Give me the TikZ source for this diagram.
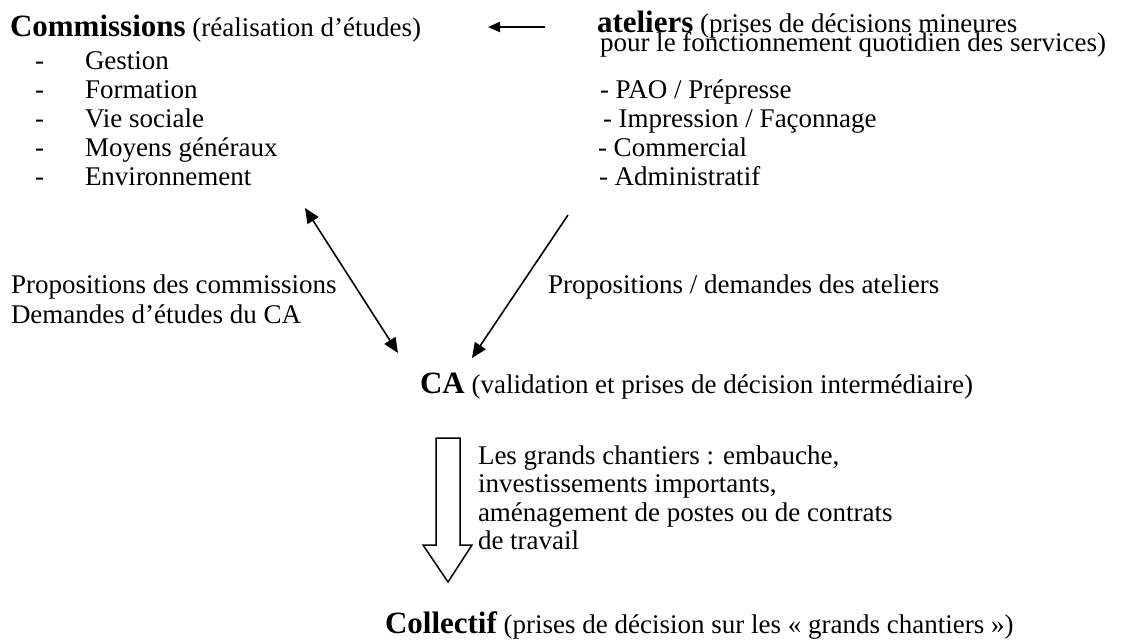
\documentclass[tikz,border=0pt]{standalone}
\usepackage{fontspec}
\setmainfont{Liberation Serif}
\usetikzlibrary{arrows.meta}
\newcommand{\rg}{\fontsize{27}{30}\selectfont}
\newcommand{\bd}[1]{{\fontsize{31}{34}\selectfont\bfseries #1}}
\begin{document}
\begin{tikzpicture}[x=1pt,y=-1pt,
  txt/.style={anchor=base west,inner sep=0pt,outer sep=0pt,font=\rg},
  thinarrow/.style={line width=1.6pt,-{Triangle[length=15pt,width=13pt]}},
  dblarrow/.style={line width=1.6pt,{Triangle[length=15pt,width=13pt]}-{Triangle[length=15pt,width=13pt]}},
  toparrow/.style={line width=2pt,-{Triangle[length=12pt,width=10pt]}},
  blockarrow/.style={line width=1.5pt,line join=miter,fill=white}]
\useasboundingbox (0,0) rectangle (1127,640);
% Commissions block
\node[txt] (comm) at (10,36) {\bd{Commissions} (réalisation d’études)};
\foreach \t/\y/\n in {Gestion/69/c1,Formation/98/c2,Vie sociale/127/c3,Moyens généraux/156/c4,Environnement/185/c5}{
  \node[txt] (\n d) at (35,\y) {-};
  \node[txt] (\n) at (85,\y) {\t};
}
% ateliers block
\node[txt] (atel) at (597,32) {\bd{ateliers} (prises de décisions mineures};
\node[txt] (atel2) at (600,51) {pour le fonctionnement quotidien des services)};
\node[txt] (a1) at (600,98) {- PAO / Prépresse};
\node[txt] (a2) at (603,127) {- Impression / Façonnage};
\node[txt] (a3) at (598,156) {- Commercial};
\node[txt] (a4) at (599,185) {- Administratif};
% top arrow
\coordinate (ta1) at (545,27);
\coordinate (ta2) at (488,27);
\draw[toparrow] (ta1) -- (ta2);
% labels
\node[txt] (l1) at (11,293) {Propositions des commissions};
\node[txt] (l2) at (11,323) {Demandes d’études du CA};
\node[txt] (l3) at (548,293) {Propositions / demandes des ateliers};
% CA
\node[txt] (ca) at (420,393) {\bd{CA} (validation et prises de décision intermédiaire)};
% arrows to CA
\coordinate (d1) at (305,208);
\coordinate (d2) at (398,353);
\coordinate (r1) at (568,215);
\coordinate (r2) at (472,358);
\draw[dblarrow] (d1) -- (d2);
\draw[thinarrow] (r1) -- (r2);
% block arrow
\draw[blockarrow] (436,438) -- (460,438) -- (460,545) -- (472,545) -- (448,582) -- (423,545) -- (436,545) -- cycle;
\node[txt] (g1) at (478,464) {Les grands chantiers : embauche,};
\node[txt] (g2) at (478,492) {investissements importants,};
\node[txt] (g3) at (478,521) {aménagement de postes ou de contrats};
\node[txt] (g4) at (478,549) {de travail};
% Collectif
\node[txt] (coll) at (385,633) {\bd{Collectif} (prises de décision sur les « grands chantiers »)};
\end{tikzpicture}
\end{document}
